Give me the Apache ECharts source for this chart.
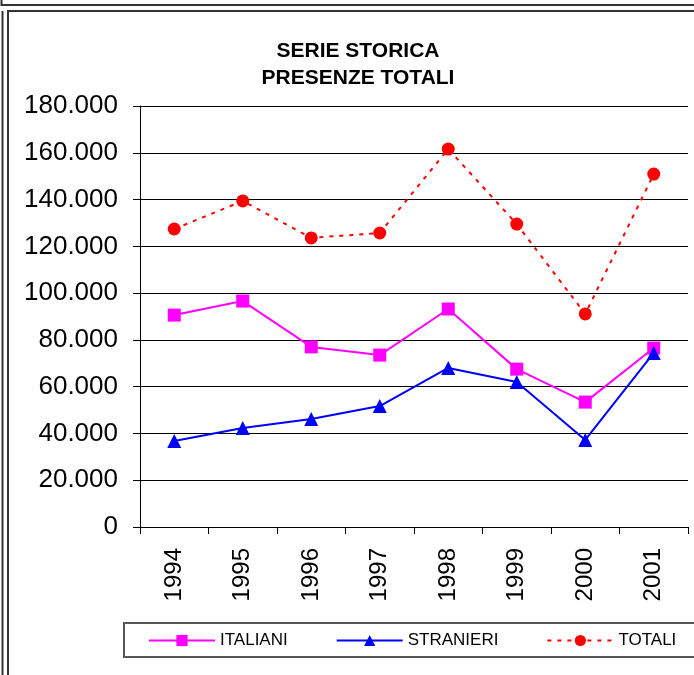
<!DOCTYPE html>
<html>
<head>
<meta charset="utf-8">
<script src="https://cdn.jsdelivr.net/npm/echarts@6/dist/echarts.min.js"></script>
<style>
  html, body { margin: 0; padding: 0; background: #fff; }
  #main { width: 694px; height: 675px; }
</style>
</head>
<body>
<div id="main"></div>
<script>
  // dati
  var anni = ['1994', '1995', '1996', '1997', '1998', '1999', '2000', '2001'];
  var italiani = [90600, 96600, 77000, 73500, 93200, 67500, 53400, 76500];
  var stranieri = [36800, 42300, 46200, 51700, 68000, 62000, 37200, 74400];
  var totali = [127400, 139400, 123600, 125700, 161600, 129500, 91100, 150900];
  var yMax = 180000;
  var yStep = 20000;

  var font = '"Liberation Sans", Arial, sans-serif';

  function fmt(v) {
    return String(v).replace(/\B(?=(\d{3})+(?!\d))/g, '.');
  }

  var myChart = echarts.init(document.getElementById('main'));
  var frame = '#333';

  var options = {
    backgroundColor: '#fff',
    animation: false,
    textStyle: { fontFamily: font, color: '#000' },
    title: {
      text: 'SERIE STORICA\nPRESENZE TOTALI',
      left: 358,
      top: 38,
      padding: 0,
      textAlign: 'center',
      textStyle: { fontSize: 21, fontWeight: 'bold', lineHeight: 27, color: '#000', fontFamily: font }
    },
    graphic: [
      // cornici esterne
      { type: 'polyline', shape: { points: [[1.5, 0], [1.5, 5], [694, 5]] }, style: { stroke: frame, lineWidth: 2, fill: null } },
      { type: 'line', shape: { x1: 2.5, y1: 11, x2: 2.5, y2: 675 }, style: { stroke: frame, lineWidth: 2 } },
      { type: 'polyline', shape: { points: [[8, 675], [8, 11], [694, 11]] }, style: { stroke: frame, lineWidth: 2, fill: null } },
      // riquadro legenda
      { type: 'rect', shape: { x: 124, y: 623, width: 600, height: 34 }, style: { stroke: '#555', lineWidth: 2, fill: null } }
    ],
    legend: {
      left: 148,
      top: 632,
      padding: 0,
      itemWidth: 66,
      itemHeight: 14,
      itemGap: 48,
      textStyle: { fontSize: 17, color: '#000', fontFamily: font },
      data: ['ITALIANI', 'STRANIERI', 'TOTALI']
    },
    grid: { left: 140, right: 6, top: 106, bottom: 148 },
    xAxis: {
      type: 'category',
      data: anni,
      boundaryGap: true,
      axisLine: { lineStyle: { color: '#000', width: 1 } },
      axisTick: { show: true, inside: false, length: 7, lineStyle: { color: '#000' } },
      axisLabel: { rotate: 90, margin: 21, fontSize: 24, color: '#000', fontFamily: font }
    },
    yAxis: {
      type: 'value',
      min: 0,
      max: yMax,
      interval: yStep,
      axisLine: { show: true, lineStyle: { color: '#000', width: 1 } },
      axisTick: { show: true, length: 7, lineStyle: { color: '#000' } },
      splitLine: { show: true, lineStyle: { color: '#000', width: 1 } },
      axisLabel: { margin: 22, fontSize: 26, color: '#000', fontFamily: font, formatter: fmt }
    },
    series: [
      {
        name: 'ITALIANI',
        type: 'line',
        data: italiani,
        symbol: 'rect',
        symbolSize: 13,
        itemStyle: { color: '#ff00ff' },
        lineStyle: { color: '#ff00ff', width: 2 }
      },
      {
        name: 'STRANIERI',
        type: 'line',
        data: stranieri,
        symbol: 'triangle',
        symbolSize: 14,
        itemStyle: { color: '#0000ff' },
        lineStyle: { color: '#0000ff', width: 2 }
      },
      {
        name: 'TOTALI',
        type: 'line',
        data: totali,
        symbol: 'circle',
        symbolSize: 13,
        itemStyle: { color: '#ff0000' },
        lineStyle: { color: '#ff0000', width: 2, type: [4, 6] }
      }
    ]
  };

  myChart.setOption(options);
  window.onresize = function () {
    myChart.resize();
  };
</script>
</body>
</html>
